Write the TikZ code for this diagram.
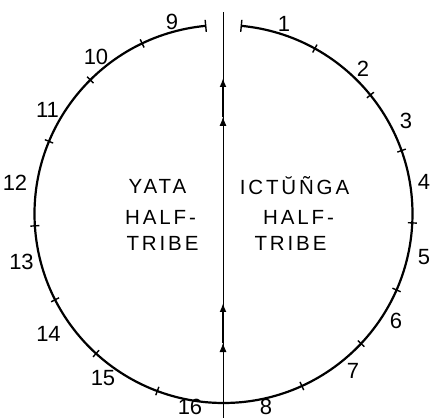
\documentclass[tikz,border=0pt]{standalone}
\usepackage{fontspec}
\setmainfont{Liberation Sans}
\usetikzlibrary{arrows.meta}
\begin{document}
\begin{tikzpicture}[x=1pt,y=1pt,
  rim/.style={line width=2.2pt},
  tickmark/.style={line width=1.4pt},
  axis/.style={line width=0.8pt},
  heavy/.style={line width=2.8pt},
  head/.style={-{Latex[length=9pt,width=7pt]}},
  num/.style={font=\fontsize{22}{24}\selectfont, inner sep=0pt},
  word/.style={font=\fontsize{20.5}{22}\selectfont\addfontfeature{LetterSpace=14}, inner sep=0pt}]
\useasboundingbox (-223.5,-204) rectangle (208.5,214);
\def\R{189}
\coordinate (O) at (0,0);
% arcs
\coordinate (lend) at (95.4:\R);
\coordinate (rend) at (84.6:\R);
\draw[rim] (lend) arc[start angle=95.4, end angle=270, radius=\R];
\draw[rim] (rend) arc[start angle=84.6, end angle=-90, radius=\R];
% end ticks
\draw[tickmark] (95.4:\R-6) -- (95.4:\R+6);
\draw[tickmark] (84.6:\R-6) -- (84.6:\R+6);
% section ticks
\foreach \a in {61.1,39,19.6,-2.7,-23.7,-43.3,-65.5,115.5,134.8,157.4,183.6,207,227.6,249.5}
  \draw[tickmark] (\a:\R-4.5) -- (\a:\R+4.5);
% vertical axis
\coordinate (top) at (-0.5,202);
\coordinate (bot) at (-0.5,-204);
\draw[axis] (bot) -- (top);
\coordinate (a1s) at (-0.5,84);
\coordinate (a1t) at (-0.5,97);
\coordinate (a2t) at (-0.5,136);
\coordinate (b1s) at (-0.5,-142);
\coordinate (b1t) at (-0.5,-129);
\coordinate (b2t) at (-0.5,-89);
\draw[axis,head] (a1s) -- (a1t);
\draw[heavy,head] (a1t) -- (a2t);
\draw[axis,head] (b1s) -- (b1t);
\draw[heavy,head] (b1t) -- (b2t);
% numbers
\node[num] (n1) at (60.5,190) {1};
\node[num] (n2) at (139.5,145) {2};
\node[num] (n3) at (182.5,93) {3};
\node[num] (n4) at (200.5,32) {4};
\node[num] (n5) at (200.5,-43) {5};
\node[num] (n6) at (172.5,-107) {6};
\node[num] (n7) at (129.5,-157) {7};
\node[num] (n8) at (42.5,-192.5) {8};
\node[num] (n9) at (-51.5,192) {9};
\node[num] (n10) at (-127.5,157) {10};
\node[num] (n11) at (-176,104) {11};
\node[num] (n12) at (-208.5,31) {12};
\node[num] (n13) at (-202,-48) {13};
\node[num] (n14) at (-175,-120) {14};
\node[num] (n15) at (-120.5,-164) {15};
\node[num] (n16) at (-33.5,-192.5) {16};
% half-tribe labels
\node[word] (y1) at (-66,28) {YATA};
\node[word] (y2) at (-63,-3) {HALF-};
\node[word] (y3) at (-61,-29) {TRIBE};
\node[word] (i1) at (71,28) {ICTŬÑGA};
\node[word] (i2) at (75,-3) {HALF-};
\node[word] (i3) at (67,-29) {TRIBE};
\end{tikzpicture}
\end{document}
